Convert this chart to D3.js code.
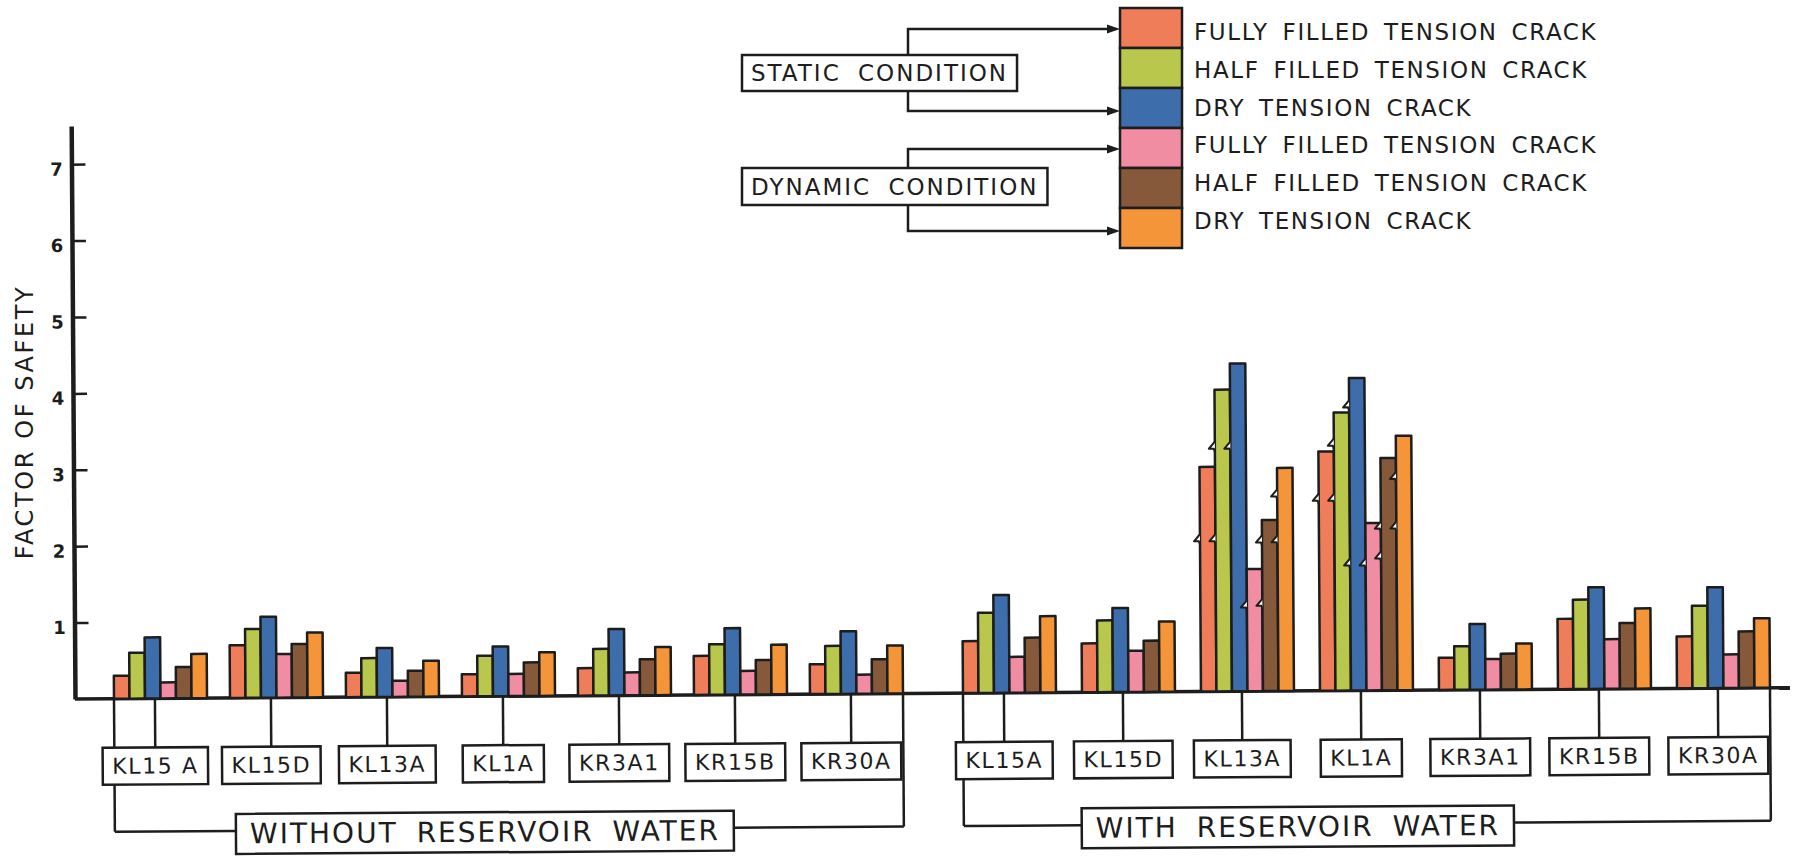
<!DOCTYPE html>
<html>
<head>
<meta charset="utf-8">
<script src="https://cdn.jsdelivr.net/npm/d3@7"></script>
<style>
  html, body { margin: 0; padding: 0; background: #fff; }
  svg { display: block; }
  text { font-family: "DejaVu Sans", sans-serif; fill: #1d1d1d; }
</style>
</head>
<body>
<svg id="chart" width="1795" height="856"></svg>
<script>
// ---- data ----
const sites = ["KL15A", "KL15D", "KL13A", "KL1A", "KR3A1", "KR15B", "KR30A"];
const siteLabelsWithout = ["KL15 A", "KL15D", "KL13A", "KL1A", "KR3A1", "KR15B", "KR30A"];
const siteLabelsWith = ["KL15A", "KL15D", "KL13A", "KL1A", "KR3A1", "KR15B", "KR30A"];
const sectionTitles = ["WITHOUT RESERVOIR WATER", "WITH RESERVOIR WATER"];
const seriesKeys = ["staticFully", "staticHalf", "staticDry", "dynamicFully", "dynamicHalf", "dynamicDry"];
const seriesLabels = ["FULLY FILLED TENSION CRACK", "HALF FILLED TENSION CRACK", "DRY TENSION CRACK",
                      "FULLY FILLED TENSION CRACK", "HALF FILLED TENSION CRACK", "DRY TENSION CRACK"];
const conditionLabels = ["STATIC CONDITION", "DYNAMIC CONDITION"];
const yTicks = [1, 2, 3, 4, 5, 6, 7];
const axisLabel = "FACTOR OF SAFETY";

// factor of safety, without reservoir water
const staticFullyWithout  = [0.30, 0.69, 0.32, 0.29, 0.36, 0.51, 0.39];
const staticHalfWithout   = [0.60, 0.90, 0.51, 0.53, 0.61, 0.66, 0.63];
const staticDryWithout    = [0.80, 1.06, 0.64, 0.65, 0.87, 0.87, 0.82];
const dynamicFullyWithout = [0.21, 0.57, 0.21, 0.29, 0.30, 0.31, 0.25];
const dynamicHalfWithout  = [0.41, 0.70, 0.34, 0.44, 0.47, 0.45, 0.45];
const dynamicDryWithout   = [0.58, 0.85, 0.47, 0.57, 0.63, 0.65, 0.63];

// factor of safety, with reservoir water
const staticFullyWith  = [0.68, 0.64, 2.94, 3.13, 0.42, 0.92, 0.68];
const staticHalfWith   = [1.05, 0.94, 3.95, 3.64, 0.57, 1.17, 1.08];
const staticDryWith    = [1.28, 1.10, 4.29, 4.09, 0.86, 1.33, 1.32];
const dynamicFullyWith = [0.47, 0.54, 1.60, 2.19, 0.40, 0.65, 0.44];
const dynamicHalfWith  = [0.72, 0.67, 2.24, 3.04, 0.47, 0.86, 0.74];
const dynamicDryWith   = [1.00, 0.92, 2.92, 3.33, 0.60, 1.05, 0.91];

// break marks drawn on the tall bars (values on the bar, one list per series)
const breaksKL13A = [[1.98], [1.98, 3.19], [3.19], [1.11], [1.13, 1.96], [1.96, 2.56]];
const breaksKL1A  = [[2.50], [2.50, 3.22], [1.65, 3.72], [1.65], [1.74, 2.13], [2.13, 2.78]];

// ---- styling ----
const ink = "#1d1d1d";
const palette = ["#f07d5a", "#b9c84c", "#3e6dab", "#f08da3", "#86593b", "#f5953a"];

const svg = d3.select("#chart");

// the hand-drawn frame sits at a slight tilt
const chart = svg.append("g").attr("transform", "rotate(-0.38, 75, 699)");

const y = d3.scaleLinear().domain([0, 7.5]).range([699, 126]);
const color = d3.scaleOrdinal().domain(seriesKeys).range(palette);

// y axis
const axisG = chart.append("g")
  .attr("transform", "translate(75,0)")
  .call(d3.axisRight(y).tickValues(yTicks).tickSize(14).tickSizeOuter(0).tickFormat(d3.format("d")));
axisG.attr("font-family", "DejaVu Sans, sans-serif").attr("font-size", 18).attr("font-weight", "bold");
axisG.select(".domain").attr("stroke", ink).attr("stroke-width", 4.5);
axisG.selectAll(".tick line").attr("stroke", ink).attr("stroke-width", 2.5);
axisG.selectAll(".tick text").attr("x", -15).attr("dy", "0.6em").attr("text-anchor", "middle").attr("fill", ink);

// baseline
chart.append("line")
  .attr("x1", 75).attr("x2", 1790)
  .attr("y1", y(0)).attr("y2", y(0))
  .attr("stroke", ink).attr("stroke-width", 3.5);

const sections = [
  {
    labels: siteLabelsWithout, title: sectionTitles[0],
    values: [staticFullyWithout, staticHalfWithout, staticDryWithout, dynamicFullyWithout, dynamicHalfWithout, dynamicDryWithout],
    range: [114, 903], padding: 0.198, titleX: 484, breaks: {}
  },
  {
    labels: siteLabelsWith, title: sectionTitles[1],
    values: [staticFullyWith, staticHalfWith, staticDryWith, dynamicFullyWith, dynamicHalfWith, dynamicDryWith],
    range: [963, 1770], padding: 0.2185, titleX: 1297, breaks: { KL13A: breaksKL13A, KL1A: breaksKL1A }
  }
];

const labelTop = 748, labelH = 37;
const titleTop = 815, titleH = 40, bracketY = 832;

sections.forEach(sec => {
  const xs = d3.scaleBand().domain(sites).range(sec.range).paddingInner(sec.padding).paddingOuter(0);
  const xi = d3.scaleBand().domain(seriesKeys).range([0, xs.bandwidth()]).padding(0);
  const first = xs(sites[0]);
  const last = xs(sites[sites.length - 1]) + xs.bandwidth();

  const lines = chart.append("g").attr("stroke", ink).attr("stroke-width", 2.5).attr("fill", "none");

  // bracket joining the section to its title
  lines.append("path").attr("d", `M${first},${y(0)}V${bracketY}`);
  lines.append("path").attr("d", `M${last},${y(0)}V${bracketY}`);

  // bars
  const groups = chart.append("g").selectAll("g.site")
    .data(sites)
    .join("g")
    .attr("class", "site")
    .attr("transform", d => `translate(${xs(d)},0)`);

  groups.selectAll("rect")
    .data((site, i) => seriesKeys.map((k, j) => ({ key: k, value: sec.values[j][i] })))
    .join("rect")
    .attr("x", d => xi(d.key))
    .attr("width", xi.bandwidth())
    .attr("y", d => y(d.value))
    .attr("height", d => y(0) - y(d.value))
    .attr("fill", d => color(d.key))
    .attr("stroke", ink)
    .attr("stroke-width", 2.5)
    .attr("stroke-linejoin", "round");

  // break marks
  groups.each(function (site) {
    const br = sec.breaks[site];
    if (!br) return;
    const g = d3.select(this);
    br.forEach((vals, j) => {
      vals.forEach(v => {
        const bx = xi(seriesKeys[j]);
        const by = y(v);
        g.append("path")
          .attr("d", `M${bx},${by - 6}L${bx - 6},${by + 1}L${bx - 1},${by + 1}L${bx},${by + 4}`)
          .attr("fill", "#fff")
          .attr("stroke", ink)
          .attr("stroke-width", 2)
          .attr("stroke-linejoin", "round");
      });
    });
  });

  // site labels with leader lines
  sites.forEach((site, i) => {
    const ax = xs(site) + xs.bandwidth() * 0.44;
    lines.append("line")
      .attr("x1", ax).attr("x2", ax)
      .attr("y1", y(0)).attr("y2", labelTop);
    const lg = chart.append("g");
    const box = lg.append("rect");
    const t = lg.append("text")
      .attr("x", ax).attr("y", labelTop + labelH / 2)
      .attr("text-anchor", "middle")
      .attr("dominant-baseline", "central")
      .attr("font-size", 22)
      .attr("letter-spacing", 1.6)
      .text(sec.labels[i]);
    const w = t.node().getComputedTextLength() + 19;
    box.attr("x", ax - w / 2).attr("y", labelTop)
      .attr("width", w).attr("height", labelH)
      .attr("fill", "#fff").attr("stroke", ink).attr("stroke-width", 2.5);
  });

  // section title box
  const tg = chart.append("g");
  const tbox = tg.append("rect");
  const tt = tg.append("text")
    .attr("x", sec.titleX).attr("y", titleTop + titleH / 2)
    .attr("text-anchor", "middle")
    .attr("dominant-baseline", "central")
    .attr("font-size", 28)
    .attr("letter-spacing", 2)
    .attr("word-spacing", 8)
    .text(sec.title);
  const tw = tt.node().getComputedTextLength() + 28;
  tbox.attr("x", sec.titleX - tw / 2).attr("y", titleTop)
    .attr("width", tw).attr("height", titleH)
    .attr("fill", "#fff").attr("stroke", ink).attr("stroke-width", 2.5);
  lines.append("path").attr("d", `M${first},${bracketY}H${sec.titleX - tw / 2}`);
  lines.append("path").attr("d", `M${sec.titleX + tw / 2},${bracketY}H${last}`);
});

// y axis title
svg.append("text")
  .attr("transform", "translate(25,422) rotate(-90)")
  .attr("text-anchor", "middle")
  .attr("dominant-baseline", "central")
  .attr("font-size", 24)
  .attr("letter-spacing", 2.6)
  .text(axisLabel);

// ---- legend ----
const legend = svg.append("g");
const swX = 1120, swW = 62, swTop = 8, swH = 40;
const textX = 1194, textTop = 32, textStep = 37.8;

legend.selectAll("rect.sw")
  .data(seriesKeys)
  .join("rect")
  .attr("class", "sw")
  .attr("x", swX).attr("y", (d, i) => swTop + i * swH)
  .attr("width", swW).attr("height", swH)
  .attr("fill", d => color(d))
  .attr("stroke", ink).attr("stroke-width", 2.5);

legend.selectAll("text.lab")
  .data(seriesLabels)
  .join("text")
  .attr("class", "lab")
  .attr("x", textX).attr("y", (d, i) => textTop + i * textStep)
  .attr("dominant-baseline", "central")
  .attr("font-size", 23)
  .attr("letter-spacing", 1.6)
  .attr("word-spacing", 5)
  .text(d => d);

// condition boxes with arrows to the swatches
const condBoxes = [{ top: 55, h: 36, rows: [0, 2] }, { top: 168, h: 37, rows: [3, 5] }];
const stemX = 908, boxX = 742;
condBoxes.forEach((c, i) => {
  const g = legend.append("g");
  const rows = c.rows.map(r => swTop + r * swH + swH / 2 + (r % 3 === 0 ? 1 : 3));
  g.append("path")
    .attr("d", `M${stemX},${c.top}V${rows[0]}H${swX - 10}M${stemX},${c.top + c.h}V${rows[1]}H${swX - 10}`)
    .attr("fill", "none").attr("stroke", ink).attr("stroke-width", 2.5);
  rows.forEach(ry => {
    g.append("path")
      .attr("d", `M${swX},${ry}L${swX - 13},${ry - 4.5}L${swX - 13},${ry + 4.5}Z`)
      .attr("fill", ink);
  });
  const box = g.append("rect");
  const t = g.append("text")
    .attr("x", boxX + 9).attr("y", c.top + c.h / 2)
    .attr("dominant-baseline", "central")
    .attr("font-size", 23)
    .attr("letter-spacing", 2)
    .attr("word-spacing", 8)
    .text(conditionLabels[i]);
  const w = t.node().getComputedTextLength() + 18;
  box.attr("x", boxX).attr("y", c.top).attr("width", w).attr("height", c.h)
    .attr("fill", "#fff").attr("stroke", ink).attr("stroke-width", 2.5);
});
</script>
</body>
</html>
